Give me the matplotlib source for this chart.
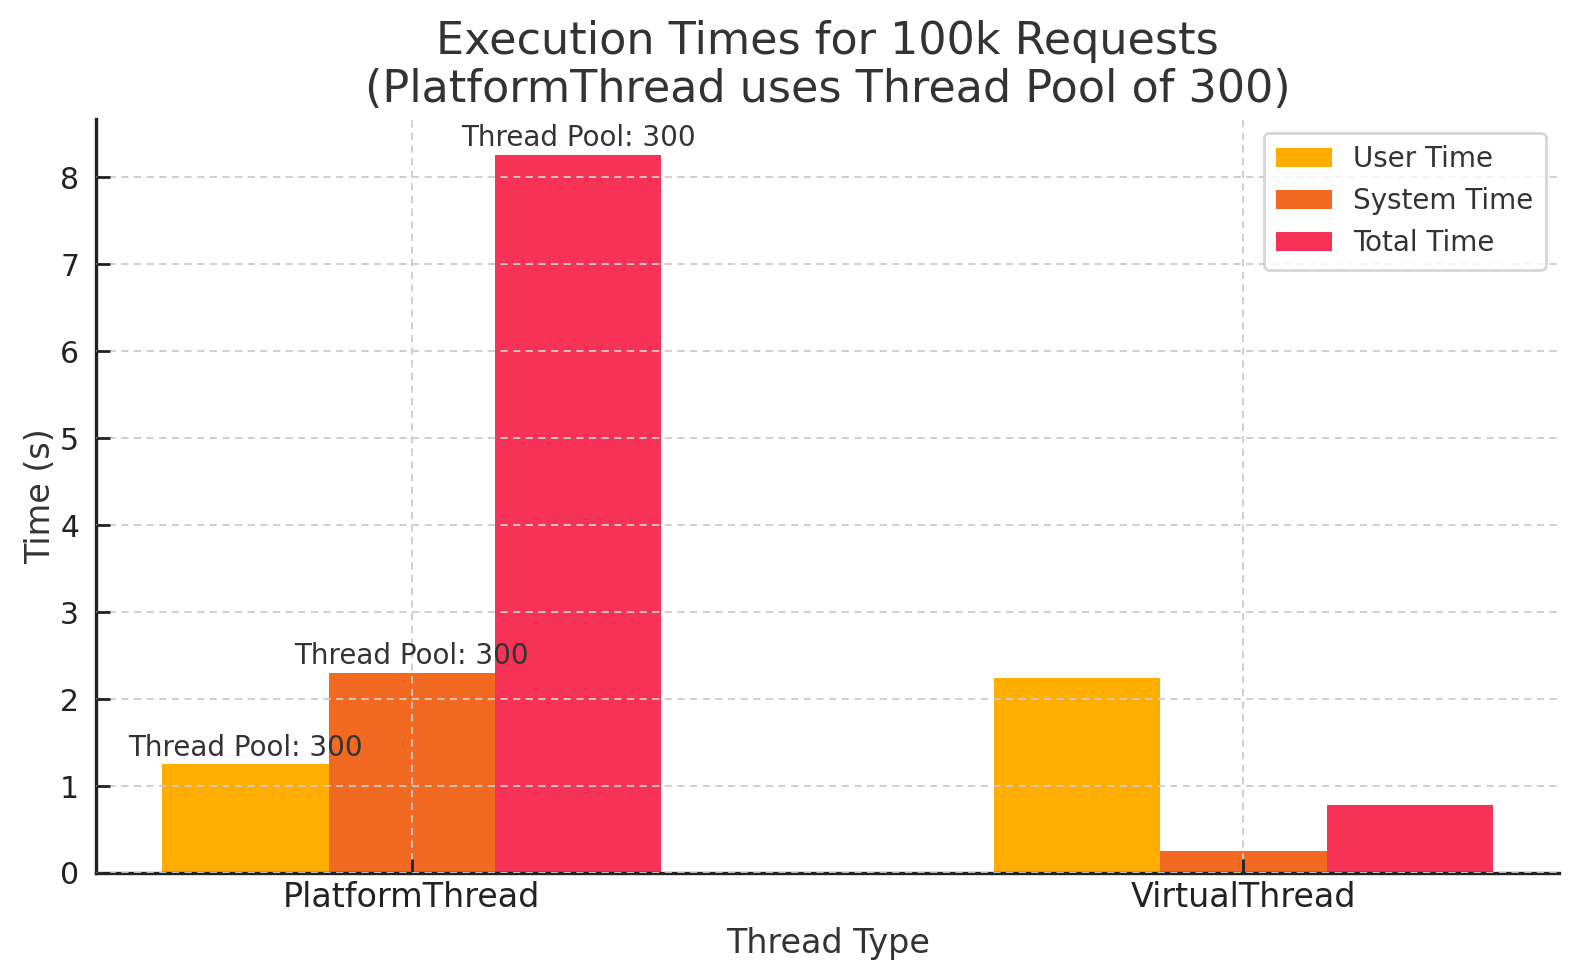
import matplotlib
matplotlib.use("Agg")
import matplotlib.pyplot as plt
import numpy as np

categories = ["PlatformThread", "VirtualThread"]
series_names = ["User Time", "System Time", "Total Time"]
user_time = [1.25, 2.24]
system_time = [2.30, 0.25]
total_time = [8.26, 0.78]
bar_label_text = "Thread Pool: 300"
colors = ["#ffae00", "#f26a22", "#f63256"]

plt.rcParams["font.family"] = ["DejaVu Sans"]
text_col = "#333333"

fig = plt.figure(figsize=(15.8, 9.8), dpi=100)
ax = fig.add_axes([0.0606, 0.1092, 0.9264, 0.7694])

x = np.arange(len(categories))
width = 0.2
series = [user_time, system_time, total_time]
for i, (vals, name, c) in enumerate(zip(series, series_names, colors)):
    bars = ax.bar(x + (i - 1) * width, vals, width, label=name, color=c, zorder=1)
    b = bars[0]
    ax.text(b.get_x() + b.get_width() / 2, b.get_height() + 0.03, bar_label_text,
            ha="center", va="bottom", fontsize=20, color=text_col, zorder=3)

ax.set_xticks(x)
ax.set_xticklabels(categories)
ax.set_ylim(0, 8.26 * 1.05)
ax.set_xlim(-0.38, 1.38)

ax.grid(True, linestyle=(0, (4, 3)), color="#cccccc", linewidth=1.3, zorder=2)
ax.set_axisbelow(False)

for s in ["top", "right"]:
    ax.spines[s].set_visible(False)
for s in ["left", "bottom"]:
    ax.spines[s].set_linewidth(2.4)
    ax.spines[s].set_color("#222222")

ax.tick_params(axis="both", direction="in", length=10, width=2, color="#222222")
ax.tick_params(axis="x", labelsize=24, labelcolor="#222222", pad=6)
ax.tick_params(axis="y", labelsize=21.5, labelcolor="#222222", pad=12)

ax.set_xlabel("Thread Type", fontsize=24, color=text_col, labelpad=9)
ax.set_ylabel("Time (s)", fontsize=24, color=text_col, labelpad=2)
ax.set_title("Execution Times for 100k Requests\n(PlatformThread uses Thread Pool of 300)",
             fontsize=32, color=text_col, pad=12, linespacing=1.15)

leg = ax.legend(loc="upper right", fontsize=20, frameon=True, fancybox=True,
                edgecolor="#cccccc", borderpad=0.45, handlelength=2.0,
                handletextpad=0.75, labelspacing=0.5, borderaxespad=0.5)
leg.get_frame().set_linewidth(2)
for t in leg.get_texts():
    t.set_color(text_col)

fig.savefig("out.png", dpi=100)
